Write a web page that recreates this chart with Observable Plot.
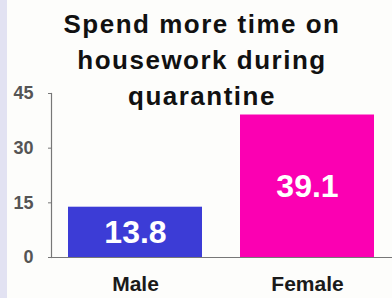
<!DOCTYPE html>
<html>
<head>
<meta charset="utf-8">
<script src="https://cdn.jsdelivr.net/npm/d3@7"></script>
<script src="https://cdn.jsdelivr.net/npm/@observablehq/plot@0.6"></script>
<style>
  html, body { margin: 0; padding: 0; }
  body { width: 392px; height: 298px; overflow: hidden; background: #e2e2f2; font-family: "Liberation Sans", Arial, sans-serif; position: relative; }
  #wrap { position: absolute; left: 7px; top: 0; width: 385px; height: 298px; background: #fdfdfb; }
  #chart { position: absolute; left: 0; top: 0; }
  #title { position: absolute; left: 0; top: 6px; width: 404px; text-align: center; font-weight: bold; font-size: 26px; line-height: 36px; color: #111; letter-spacing: 1.5px; }
</style>
</head>
<body>
<div id="wrap"></div>
<div id="chart"></div>
<div id="title">Spend more time on<br>housework during<br>quarantine</div>
<script>
const categories = ["Male", "Female"];
const values = [13.8, 39.1];
const colors = ["#3c3cd6", "#fb00b2"];
const yTicks = [0, 15, 30, 45];

const data = categories.map((c, i) => ({ category: c, value: values[i], color: colors[i] }));

const chart = Plot.plot({
  width: 392,
  height: 298,
  marginTop: 93,
  marginBottom: 41,
  marginLeft: 51,
  marginRight: 0,
  style: { background: "transparent", fontFamily: "Liberation Sans, Arial, sans-serif", overflow: "visible" },
  x: { domain: categories, paddingInner: 0.22, paddingOuter: 0.1, label: null },
  y: { domain: [0, 45], ticks: yTicks, label: null },
  marks: [
    Plot.barY(data, { x: "category", y: "value", fill: "color" }),
    Plot.ruleY([0], { stroke: "#777", strokeWidth: 1.2 }),
    Plot.frame({ anchor: "left", stroke: "#777", strokeWidth: 1.2 }),
    Plot.axisY({ ticks: yTicks, tickSize: 3, tickPadding: 15, stroke: "#777", fontSize: 18, fontWeight: "bold", fill: "#555", label: null }),
    Plot.axisX({ tickSize: 0, tickPadding: 19, fontSize: 21, fontWeight: "bold", fill: "#1a1a1a", label: null }),
    Plot.text(data, { x: "category", y: d => d.value / 2, text: d => d.value.toFixed(1), lineAnchor: "middle", fill: "white", fontSize: 32, fontWeight: "bold" })
  ]
});
document.getElementById("chart").appendChild(chart);
</script>
</body>
</html>
